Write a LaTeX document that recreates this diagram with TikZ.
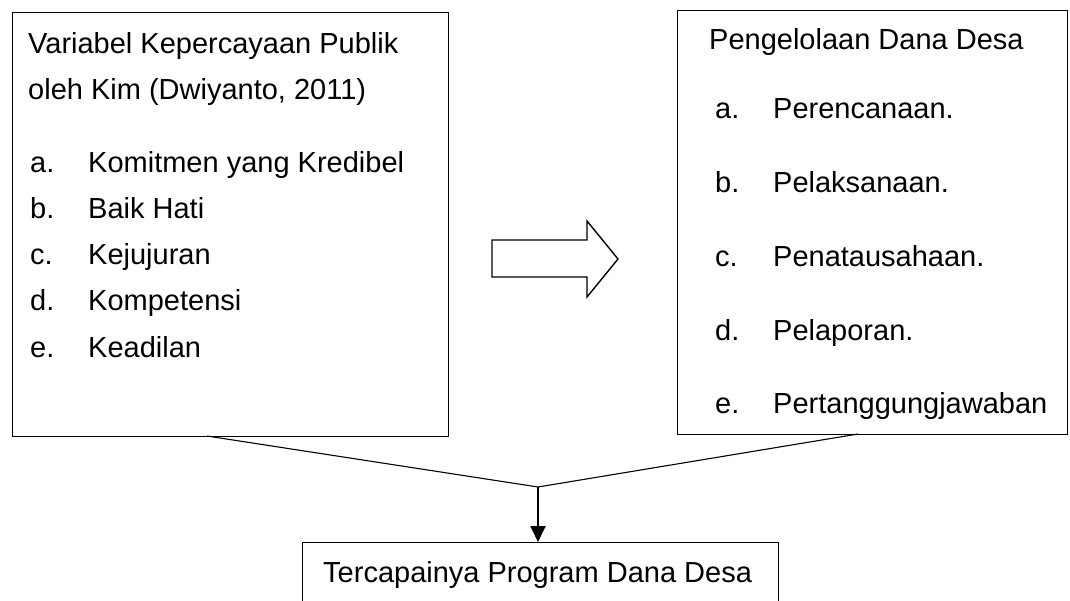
\documentclass[tikz,border=0pt]{standalone}
\usepackage{fontspec}
\setmainfont{Liberation Sans}
\usetikzlibrary{positioning, arrows.meta}

\tikzset{
  box/.style={draw, line width=1.1pt, inner sep=0pt, anchor=north west},
  txt/.style={anchor=base west, inner sep=0pt}
}

\begin{document}
\begin{tikzpicture}[x=1pt, y=-1pt, font=\fontsize{29}{34}\selectfont]
      \clip (0,0) rectangle (1070,601);

      % kotak kiri
      \node[box, minimum width=436pt, minimum height=424pt] (kp) at (12,12) {};
      \node[txt] (kpj1) at (28,54) {Variabel Kepercayaan Publik};
      \node[txt] (kpj2) at (28,100) {oleh Kim (Dwiyanto, 2011)};
      \node[txt] (kpa) at (30,173) {a.};
      \node[txt] (kpat) at (88,173) {Komitmen yang Kredibel};
      \node[txt] (kpb) at (30,219) {b.};
      \node[txt] (kpbt) at (88,219) {Baik Hati};
      \node[txt] (kpc) at (30,265) {c.};
      \node[txt] (kpct) at (88,265) {Kejujuran};
      \node[txt] (kpd) at (30,311) {d.};
      \node[txt] (kpdt) at (88,311) {Kompetensi};
      \node[txt] (kpe) at (30,357) {e.};
      \node[txt] (kpet) at (88,357) {Keadilan};

      % kotak kanan
      \node[box, minimum width=390pt, minimum height=424pt] (dd) at (677,10) {};
      \node[txt] (ddj) at (709,50) {Pengelolaan Dana Desa};
      \node[txt] (dda) at (715,119) {a.};
      \node[txt] (ddat) at (773,119) {Perencanaan.};
      \node[txt] (ddb) at (715,193) {b.};
      \node[txt] (ddbt) at (773,193) {Pelaksanaan.};
      \node[txt] (ddc) at (715,267) {c.};
      \node[txt] (ddct) at (773,267) {Penatausahaan.};
      \node[txt] (ddd) at (715,340) {d.};
      \node[txt] (dddt) at (773,340) {Pelaporan.};
      \node[txt] (dde) at (715,413) {e.};
      \node[txt] (ddet) at (773,413) {Pertanggungjawaban};

      % panah blok
      \draw[line width=1.4pt, miter limit=10] (492,240) -- (587,240) -- (587,221) -- (618,259)
            -- (587,297) -- (587,277) -- (492,277) -- cycle;

      % kotak bawah
      \node[box, minimum width=476pt, minimum height=100pt] (tp) at (302,542) {};
      \node[txt] (tpt) at (323,582) {Tercapainya Program Dana Desa};

      \coordinate (kpkaki) at (207,436);
      \coordinate (ddkaki) at (858,434);
      \coordinate (temu) at (538,487);

      \draw[line width=1.1pt] (kpkaki)--(temu)--(ddkaki);
      \draw[-{Triangle[length=16pt, width=15pt]}, line width=1.8pt] (temu)--(temu |- tp.north);
    \end{tikzpicture}
\end{document}
